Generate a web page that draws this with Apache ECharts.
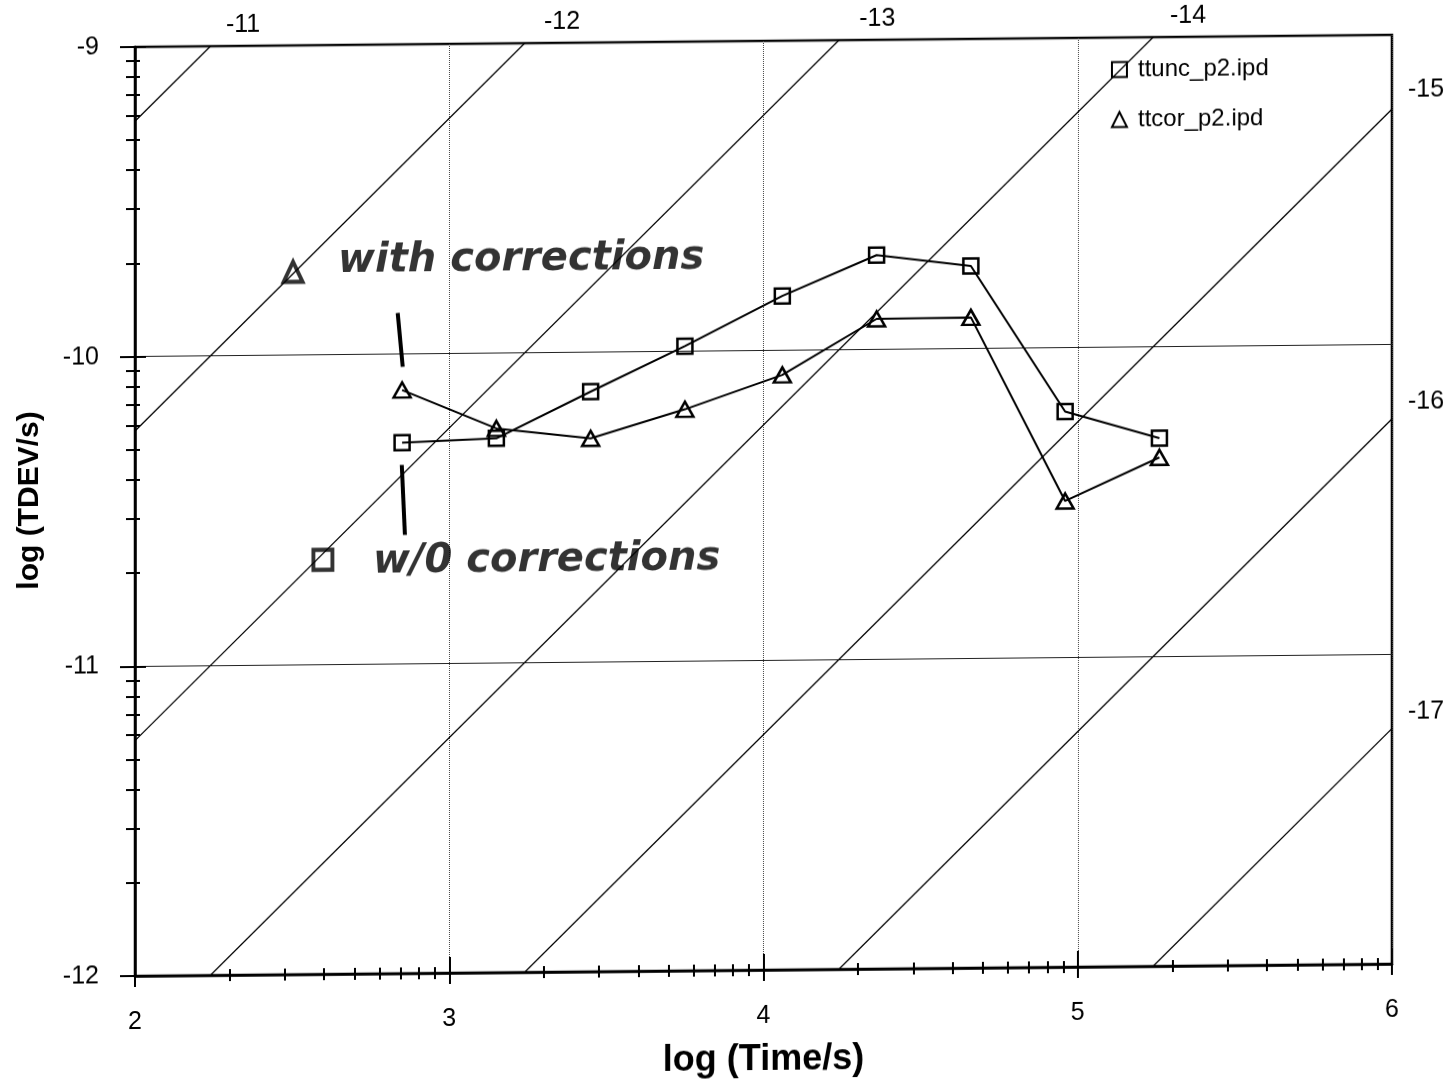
<!DOCTYPE html>
<html><head><meta charset="utf-8">
<script src="https://cdn.jsdelivr.net/npm/echarts@6/dist/echarts.min.js"></script>
<style>
html,body{margin:0;padding:0;background:#fff;overflow:hidden;width:1450px;height:1082px;}
#chart{width:1450px;height:1100px;transform:skewY(-0.55deg);transform-origin:135px 0;}
</style></head><body><div id="chart"></div>
<script>
// ---- data ----
const logTime = [2.85, 3.15, 3.45, 3.75, 4.06, 4.36, 4.66, 4.96, 5.26];
const ttuncTdev = [-10.286, -10.275, -10.127, -9.983, -9.824, -9.695, -9.733, -10.206, -10.295];
const ttcorTdev = [-10.116, -10.243, -10.278, -10.187, -10.079, -9.901, -9.899, -10.495, -10.357];
const seriesNames = ['ttunc_p2.ipd', 'ttcor_p2.ipd'];

const xTickValues = [2, 3, 4, 5, 6];
const xTickLabels = ['2', '3', '4', '5', '6'];
const yTickValues = [-9, -10, -11, -12];
const yTickLabels = ['-9', '-10', '-11', '-12'];

// constant-stability guide lines: log TDEV = log tau + intercept
const diagIntercepts = [-11.24, -12.24, -13.24, -14.24, -15.24, -16.24, -17.24];
const topLabelText = ['-11', '-12', '-13', '-14'];
const topLabelPos = [2.344, 3.359, 4.362, 5.351];
const rightLabelText = ['-15', '-16', '-17'];
const rightLabelPos = [-9.179, -10.186, -11.187];

// hand-written notes
const noteText = ['with corrections', 'w/0 corrections'];
const noteTextX = [2.646, 2.757];
const noteTextY = [-9.70, -10.672];
const noteSymbol = ['triangle', 'rect'];
const noteSymbolX = [2.503, 2.598];
const noteSymbolY = [-9.731, -10.662];
const noteStrokeX = [[2.836, 2.852], [2.849, 2.859]];
const noteStrokeY = [[-9.867, -10.041], [-10.358, -10.584]];

// ---- chart ----
const FONT = "'Liberation Sans', Arial, sans-serif";
const HAND = "'DejaVu Sans', sans-serif";
const minorX = [];
for (let d = 2; d < 6; d++) for (let k = 2; k <= 9; k++) minorX.push(d + Math.log10(k));
const minorY = [];
for (let d = -12; d < -9; d++) for (let k = 2; k <= 9; k++) minorY.push(d + Math.log10(k));
const tickLine = {color: '#000', width: 2};
const nearest = (arr, v) => { let bi = 0; arr.forEach((a, i) => { if (Math.abs(a - v) < Math.abs(arr[bi] - v)) bi = i; }); return bi; };

function extraX(o) {
  return Object.assign({type: 'value', min: 2, max: 6, position: 'bottom',
    axisLine: {show: false}, axisLabel: {show: false}, splitLine: {show: false}, axisTick: {show: false}}, o);
}
function extraY(o) {
  return Object.assign({type: 'value', min: -12, max: -9, position: 'left',
    axisLine: {show: false}, axisLabel: {show: false}, splitLine: {show: false}, axisTick: {show: false}}, o);
}

const series = [];
diagIntercepts.forEach(c => {
  series.push({type: 'line', data: [[2, 2 + c], [6, 6 + c]], symbol: 'none', silent: true, clip: true, z: 1,
    lineStyle: {color: '#000', width: 1.3}});
});
series.push({name: seriesNames[0], type: 'line', data: logTime.map((x, i) => [x, ttuncTdev[i]]),
  symbol: 'rect', symbolSize: 15, showSymbol: true, z: 5,
  itemStyle: {color: 'rgba(255,255,255,0)', borderColor: '#000', borderWidth: 2.5},
  lineStyle: {color: '#000', width: 2}});
series.push({name: seriesNames[1], type: 'line', data: logTime.map((x, i) => [x, ttcorTdev[i]]),
  symbol: 'triangle', symbolSize: [17, 15], showSymbol: true, z: 5,
  itemStyle: {color: 'rgba(255,255,255,0)', borderColor: '#000', borderWidth: 2.5},
  lineStyle: {color: '#000', width: 2}});
// notes
series.push({type: 'scatter', silent: true, z: 6,
  data: noteSymbol.map((s, i) => ({value: [noteSymbolX[i], noteSymbolY[i]], symbol: s})),
  symbolSize: [19, 20],
  itemStyle: {color: 'rgba(255,255,255,0)', borderColor: '#000', borderWidth: 4}});
series.push({type: 'scatter', silent: true, z: 6, symbolSize: 0,
  data: noteText.map((t, i) => [noteTextX[i], noteTextY[i]]),
  label: {show: true, position: 'right', distance: 0, color: '#000', fontFamily: HAND, fontSize: 40,
    fontStyle: 'italic', fontWeight: 'bold', formatter: p => noteText[p.dataIndex]}});
noteStrokeX.forEach((xs, i) => {
  series.push({type: 'line', silent: true, z: 6, symbol: 'none',
    data: xs.map((x, j) => [x, noteStrokeY[i][j]]), lineStyle: {color: '#000', width: 4}});
});

const option = {
  animation: false,
  backgroundColor: '#fff',
  grid: {left: 135, top: 47, width: 1257, height: 929, show: true, borderColor: '#000', borderWidth: 2.5,
    backgroundColor: 'transparent', containLabel: false, outerBoundsMode: 'none'},
  legend: {
    orient: 'vertical', left: 1106, top: 62, itemWidth: 15, itemHeight: 15, itemGap: 26, selectedMode: false,
    textStyle: {fontSize: 24, fontFamily: FONT, color: '#000', lineHeight: 24, padding: [0, 0, 0, 6]},
    data: [
      {name: seriesNames[0], icon: 'rect', itemStyle: {color: 'rgba(255,255,255,0)', borderColor: '#000', borderWidth: 2}},
      {name: seriesNames[1], icon: 'triangle', itemStyle: {color: 'rgba(255,255,255,0)', borderColor: '#000', borderWidth: 2}}
    ]
  },
  xAxis: [
    {type: 'value', min: 2, max: 6, interval: 1, position: 'bottom',
      axisLine: {show: true, onZero: false, lineStyle: {color: '#000', width: 2.5}},
      axisTick: {show: true, length: 11, lineStyle: tickLine},
      axisLabel: {fontSize: 25, color: '#000', fontFamily: FONT, margin: 34,
        formatter: v => xTickLabels[nearest(xTickValues, v)]},
      splitLine: {show: true, lineStyle: {type: 'dotted', color: '#444', width: 1}},
      name: 'log (Time/s)', nameLocation: 'middle', nameGap: 72,
      nameTextStyle: {fontSize: 36, fontWeight: 'bold', color: '#000', fontFamily: FONT}},
    extraX({axisTick: {show: true, inside: true, length: 16, customValues: xTickValues, lineStyle: tickLine}}),
    extraX({axisTick: {show: true, length: 6, customValues: minorX, lineStyle: tickLine}}),
    extraX({axisTick: {show: true, inside: true, length: 6, customValues: minorX, lineStyle: tickLine}}),
    extraX({position: 'top', axisLabel: {show: true, customValues: topLabelPos, margin: 8, fontSize: 25,
      color: '#000', fontFamily: FONT, formatter: v => topLabelText[nearest(topLabelPos, v)]}})
  ],
  yAxis: [
    {type: 'value', min: -12, max: -9, interval: 1, position: 'left',
      axisLine: {show: true, onZero: false, lineStyle: {color: '#000', width: 2.5}},
      axisTick: {show: true, length: 15, lineStyle: tickLine},
      axisLabel: {fontSize: 25, color: '#000', fontFamily: FONT, margin: 36,
        formatter: v => yTickLabels[nearest(yTickValues, v)]},
      splitLine: {show: true, lineStyle: {type: 'solid', color: '#222', width: 1.2}},
      name: 'log (TDEV/s)', nameLocation: 'middle', nameGap: 90,
      nameTextStyle: {fontSize: 30, fontWeight: 'bold', color: '#000', fontFamily: FONT, padding: [0, 0, 0, 24]}},
    extraY({axisTick: {show: true, inside: true, length: 11, customValues: yTickValues, lineStyle: tickLine}}),
    extraY({axisTick: {show: true, length: 9, customValues: minorY, lineStyle: tickLine}}),
    extraY({axisTick: {show: true, inside: true, length: 5, customValues: minorY, lineStyle: tickLine}}),
    extraY({position: 'right', axisLabel: {show: true, customValues: rightLabelPos, margin: 16, fontSize: 25,
      color: '#000', fontFamily: FONT, formatter: v => rightLabelText[nearest(rightLabelPos, v)]}})
  ],
  series: series
};
const chart = echarts.init(document.getElementById('chart'), null, {renderer: 'canvas'});
chart.setOption(option);
</script></body></html>
